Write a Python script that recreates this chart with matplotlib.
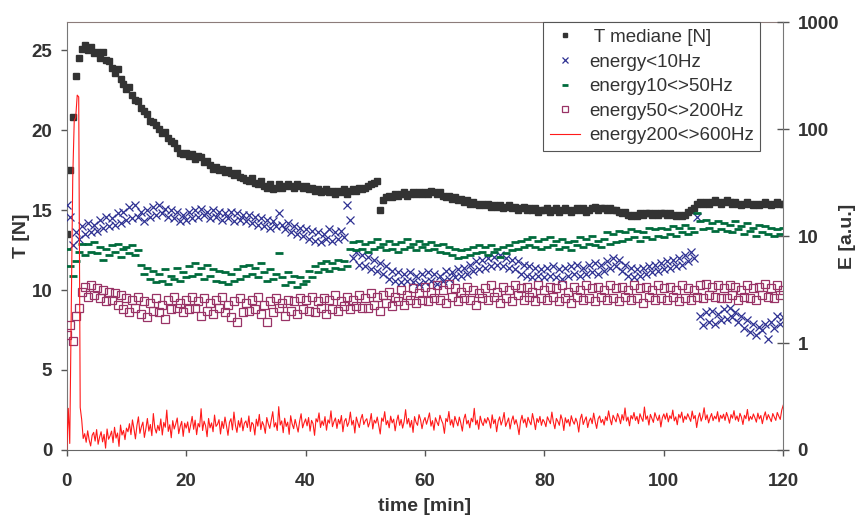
import numpy as np
import matplotlib.pyplot as plt
from matplotlib.ticker import NullLocator

plt.rcParams['font.family'] = ['Liberation Sans', 'DejaVu Sans']

# scatter series: one sample every 0.5 min, from 0 to 120 min
# T mediane [N] (left axis)
T_mediane = [
    13.5, 17.5, 20.8, 23.4, 24.5, 25.1, 25.3, 25.0, 25.2, 24.8,
    24.9, 24.5, 24.9, 24.4, 24.3, 23.9, 23.6, 23.8, 23.2, 22.9,
    22.6, 22.7, 22.2, 21.9, 21.8, 21.4, 21.2, 21.0, 20.6, 20.5,
    20.3, 20.1, 19.8, 19.9, 19.5, 19.3, 19.2, 18.9, 18.6, 18.5,
    18.6, 18.4, 18.5, 18.2, 18.4, 18.3, 18.0, 18.1, 17.8, 17.6,
    17.7, 17.5, 17.6, 17.4, 17.5, 17.3, 17.2, 17.3, 17.1, 17.0,
    16.9, 16.8, 17.0, 16.7, 16.6, 16.8, 16.5, 16.4, 16.6, 16.3,
    16.4, 16.6, 16.4, 16.5, 16.6, 16.5, 16.4, 16.6, 16.5, 16.4,
    16.5, 16.3, 16.4, 16.2, 16.3, 16.1, 16.2, 16.3, 16.1, 16.2,
    16.0, 16.2, 16.1, 16.3, 16.0, 16.2, 16.3, 16.2, 16.4, 16.3,
    16.4, 16.5, 16.6, 16.7, 16.8, 15.0, 15.6, 15.8, 15.9, 15.8,
    16.0, 15.9, 16.0, 16.1, 15.9, 16.0, 16.1, 16.0, 16.1, 16.0,
    16.1, 16.0, 16.2, 16.1, 16.0, 16.1, 15.9, 15.8, 15.9, 15.7,
    15.8, 15.6, 15.7, 15.5, 15.6, 15.4, 15.5, 15.4, 15.3, 15.4,
    15.3, 15.4, 15.2, 15.3, 15.2, 15.3, 15.1, 15.2, 15.3, 15.1,
    15.2, 15.0, 15.1, 15.2, 15.0, 15.1, 15.0, 15.1, 14.9, 15.0,
    15.0, 15.1, 14.9, 15.0, 15.1, 14.9, 15.0, 15.1, 15.0, 14.9,
    15.0, 15.1, 15.0, 15.1, 14.9, 15.0, 15.1, 15.2, 15.0, 15.1,
    15.1, 15.0, 15.1, 15.0, 15.0, 14.9, 14.8, 14.9, 14.7, 14.6,
    14.7, 14.6, 14.8, 14.7, 14.8, 14.8, 14.7, 14.8, 14.7, 14.8,
    14.8, 14.7, 14.8, 14.7, 14.6, 14.7, 14.6, 14.7, 14.9, 15.0,
    15.1, 15.4, 15.5, 15.4, 15.5, 15.4, 15.5, 15.6, 15.5, 15.4,
    15.5, 15.6, 15.5, 15.4, 15.5, 15.4, 15.3, 15.4, 15.5, 15.4,
    15.3, 15.4, 15.3, 15.4, 15.5, 15.4, 15.3, 15.4, 15.5, 15.4,
    15.4,
]

# energies [a.u.] (right axis, log)
energy_lt10 = [
    19.4, 15.2, 8.20, 10.8, 9.41, 12.4, 10.4, 13.3, 10.8, 12.8,
    11.2, 14.2, 12.0, 15.2, 12.4, 14.7, 12.8, 16.3, 13.3, 16.9,
    14.2, 18.7, 14.7, 19.4, 15.2, 16.9, 13.7, 17.5, 15.2, 18.7,
    15.8, 19.4, 16.3, 18.1, 15.2, 17.5, 14.7, 16.9, 13.7, 15.8,
    14.2, 16.9, 14.7, 17.5, 15.2, 18.1, 15.8, 16.9, 14.7, 17.5,
    15.2, 16.9, 14.2, 16.3, 14.7, 16.9, 13.7, 16.3, 14.2, 15.8,
    13.7, 15.8, 13.3, 15.2, 12.8, 14.7, 12.4, 14.2, 12.0, 13.7,
    12.4, 16.3, 12.8, 11.6, 13.3, 10.8, 12.4, 10.4, 12.0, 10.1,
    11.6, 9.41, 11.2, 9.09, 10.8, 8.78, 10.4, 9.41, 11.6, 9.09,
    10.8, 9.41, 11.2, 9.74, 19.4, 14.2, 6.22, 7.14, 5.42, 6.67,
    5.24, 6.44, 4.89, 6.01, 4.73, 5.61, 4.41, 5.24, 3.98, 4.73,
    3.84, 4.57, 3.71, 4.41, 3.84, 4.57, 3.71, 4.26, 3.59, 4.41,
    3.71, 4.57, 3.84, 4.41, 3.59, 4.26, 3.84, 4.73, 3.98, 4.57,
    4.12, 4.89, 4.26, 5.06, 4.41, 5.42, 4.73, 5.81, 4.89, 6.01,
    5.06, 6.22, 5.24, 6.44, 5.42, 6.67, 5.24, 6.22, 5.06, 6.01,
    4.89, 5.81, 4.41, 5.42, 4.26, 5.24, 4.12, 5.06, 4.26, 4.89,
    4.12, 5.06, 4.26, 5.24, 4.12, 4.89, 3.98, 5.06, 4.26, 5.24,
    4.41, 5.42, 4.26, 5.06, 4.41, 5.42, 4.57, 5.61, 4.41, 5.42,
    4.73, 5.81, 5.06, 6.22, 5.24, 6.01, 4.73, 5.42, 4.26, 5.06,
    4.12, 4.89, 4.26, 5.06, 4.41, 5.24, 4.57, 5.42, 4.73, 5.61,
    4.89, 5.81, 5.06, 6.01, 5.24, 6.22, 5.42, 6.67, 5.81, 7.14,
    6.22, 15.2, 1.80, 1.47, 1.93, 1.57, 2.00, 1.52, 1.87, 1.63,
    2.07, 1.68, 2.14, 1.74, 1.93, 1.57, 1.80, 1.37, 1.63, 1.28,
    1.52, 1.19, 1.42, 1.32, 1.52, 1.08, 1.57, 1.37, 1.80, 1.52,
    1.74,
]

energy_10_50 = [
    7.65, 5.24, 4.26, 5.81, 7.14, 8.48, 6.67, 8.48, 7.14, 8.78,
    6.90, 7.92, 6.01, 7.65, 6.67, 8.20, 7.14, 8.48, 6.44, 7.65,
    7.92, 6.90, 8.20, 6.67, 7.39, 5.42, 4.41, 5.06, 3.98, 4.73,
    3.71, 4.41, 3.84, 4.89, 3.59, 4.26, 3.98, 5.06, 3.84, 4.57,
    4.12, 5.24, 4.26, 5.61, 4.41, 5.06, 3.98, 5.42, 4.26, 4.89,
    3.84, 4.73, 3.71, 4.57, 3.59, 4.41, 3.84, 4.89, 3.98, 5.24,
    4.26, 5.42, 4.41, 5.06, 4.12, 5.61, 4.57, 3.84, 4.89, 3.98,
    4.41, 6.90, 4.12, 3.47, 4.57, 3.71, 4.26, 3.35, 4.12, 3.59,
    3.84, 4.73, 4.12, 5.24, 4.57, 5.61, 4.89, 5.81, 4.73, 5.61,
    5.06, 6.01, 4.89, 5.81, 5.24, 7.65, 8.78, 7.39, 9.09, 7.65,
    8.48, 7.14, 8.78, 7.65, 9.41, 7.92, 8.48, 7.39, 9.09, 7.65,
    8.48, 7.14, 8.78, 7.65, 9.41, 7.92, 8.48, 7.39, 9.09, 7.92,
    8.48, 7.39, 8.78, 7.65, 8.20, 7.14, 8.48, 6.90, 7.92, 6.67,
    7.65, 6.22, 7.39, 6.44, 7.65, 6.67, 7.92, 6.90, 8.20, 7.14,
    7.92, 6.67, 8.20, 7.14, 7.65, 6.44, 7.92, 6.90, 8.20, 7.39,
    8.78, 7.65, 9.09, 7.92, 9.41, 8.20, 9.74, 7.92, 9.09, 7.65,
    9.41, 7.92, 9.74, 8.20, 9.09, 7.65, 9.41, 7.92, 8.78, 7.39,
    9.09, 8.20, 9.74, 7.92, 9.41, 8.48, 10.1, 8.20, 9.09, 7.92,
    9.41, 10.8, 8.48, 10.4, 8.78, 11.2, 9.09, 10.8, 9.41, 11.6,
    9.74, 11.2, 9.09, 10.8, 9.74, 12.0, 9.41, 11.6, 10.1, 12.0,
    9.74, 11.6, 10.4, 12.4, 10.1, 12.0, 10.8, 12.8, 10.4, 12.0,
    10.8, 16.3, 13.7, 11.6, 14.2, 12.0, 13.3, 11.2, 13.7, 11.6,
    13.3, 11.2, 12.8, 10.8, 13.7, 11.6, 12.4, 10.4, 13.3, 11.2,
    12.0, 10.1, 12.8, 10.8, 12.4, 10.4, 12.0, 10.1, 11.6, 10.4,
    12.0,
]

energy_50_200 = [
    1.19, 1.47, 1.04, 1.80, 2.14, 3.02, 3.35, 2.72, 3.47, 2.82,
    3.24, 2.63, 3.13, 2.46, 3.02, 2.54, 2.92, 2.29, 2.82, 2.07,
    2.63, 1.93, 2.54, 2.14, 2.72, 1.87, 2.46, 1.74, 2.37, 2.00,
    2.63, 1.93, 2.29, 1.68, 2.54, 2.07, 2.72, 2.14, 2.37, 1.93,
    2.54, 2.07, 2.72, 2.14, 2.46, 1.80, 2.63, 2.00, 2.37, 1.87,
    2.54, 2.14, 2.72, 1.93, 2.29, 1.74, 2.46, 1.57, 2.63, 1.93,
    2.37, 2.00, 2.54, 2.07, 2.72, 1.87, 2.29, 1.57, 2.46, 1.93,
    2.63, 2.14, 2.37, 1.80, 2.54, 2.00, 2.46, 1.87, 2.63, 2.07,
    2.54, 2.00, 2.72, 1.93, 2.46, 2.14, 2.63, 1.87, 2.54, 2.07,
    2.82, 2.00, 2.46, 2.22, 2.72, 2.07, 2.54, 2.22, 2.82, 2.14,
    2.63, 2.14, 2.92, 2.29, 2.72, 2.00, 2.82, 2.37, 3.02, 2.22,
    2.72, 2.46, 3.13, 2.29, 2.82, 2.54, 3.24, 2.37, 2.92, 2.54,
    3.35, 2.46, 3.02, 2.63, 3.47, 2.54, 3.13, 2.37, 3.59, 2.72,
    3.24, 2.46, 3.02, 2.63, 3.35, 2.54, 3.13, 2.29, 2.92, 2.63,
    3.24, 2.54, 3.47, 2.72, 3.02, 2.37, 3.35, 2.63, 3.13, 2.46,
    3.47, 2.82, 3.24, 2.54, 3.35, 2.72, 3.02, 2.46, 3.47, 2.63,
    3.13, 2.54, 3.35, 2.72, 3.24, 2.46, 3.47, 2.63, 3.02, 2.37,
    3.35, 2.72, 3.13, 2.54, 3.47, 2.63, 3.24, 2.46, 3.35, 2.72,
    3.13, 2.54, 3.47, 2.63, 3.24, 2.46, 3.35, 2.72, 3.13, 2.54,
    3.47, 2.63, 3.24, 2.37, 3.35, 2.72, 3.13, 2.54, 3.47, 2.63,
    3.24, 2.54, 3.35, 2.72, 3.13, 2.46, 3.47, 2.63, 3.24, 2.54,
    3.13, 2.72, 3.47, 2.63, 3.59, 2.82, 3.35, 2.72, 3.47, 2.63,
    3.24, 2.63, 3.47, 2.82, 3.35, 2.54, 3.13, 2.72, 3.47, 2.63,
    3.24, 2.54, 3.35, 2.82, 3.59, 2.72, 3.24, 2.63, 3.47, 2.82,
    3.13,
]

# line series: one sample every 0.25 min
energy_200_600 = [
    0.100, 0.245, 0.115, 2.20, 34.8, 120.0, 129.0, 208.0, 200.0, 0.250, 0.192,
    0.128, 0.142, 0.118, 0.151, 0.124, 0.109, 0.137, 0.146, 0.121, 0.155,
    0.113, 0.132, 0.148, 0.119, 0.140, 0.104, 0.157, 0.126, 0.135, 0.150,
    0.117, 0.163, 0.129, 0.144, 0.108, 0.171, 0.138, 0.152, 0.125, 0.160,
    0.148, 0.176, 0.139, 0.191, 0.158, 0.127, 0.169, 0.204, 0.143, 0.165,
    0.182, 0.131, 0.158, 0.197, 0.150, 0.173, 0.136, 0.219, 0.161, 0.144,
    0.170, 0.152, 0.195, 0.138, 0.181, 0.163, 0.236, 0.149, 0.172, 0.130,
    0.188, 0.157, 0.175, 0.199, 0.142, 0.166, 0.185, 0.134, 0.178, 0.160,
    0.183, 0.145, 0.171, 0.206, 0.156, 0.190, 0.139, 0.177, 0.164, 0.243,
    0.152, 0.186, 0.168, 0.133, 0.197, 0.161, 0.179, 0.148, 0.212, 0.166,
    0.174, 0.192, 0.141, 0.185, 0.159, 0.203, 0.168, 0.137, 0.181, 0.196,
    0.154, 0.226, 0.170, 0.146, 0.188, 0.163, 0.199, 0.151, 0.178, 0.187,
    0.162, 0.208, 0.149, 0.181, 0.173, 0.138, 0.194, 0.167, 0.215, 0.155,
    0.184, 0.170, 0.143, 0.201, 0.176, 0.159, 0.190, 0.228, 0.164, 0.180,
    0.152, 0.254, 0.171, 0.187, 0.145, 0.198, 0.166, 0.182, 0.140, 0.209,
    0.175, 0.158, 0.193, 0.169, 0.147, 0.186, 0.218, 0.161, 0.179, 0.195,
    0.168, 0.201, 0.150, 0.189, 0.176, 0.137, 0.196, 0.183, 0.222, 0.162,
    0.187, 0.170, 0.205, 0.153, 0.191, 0.178, 0.232, 0.165, 0.184, 0.199,
    0.159, 0.193, 0.175, 0.210, 0.148, 0.186, 0.197, 0.166, 0.181, 0.226,
    0.171, 0.189, 0.144, 0.203, 0.180, 0.162, 0.195, 0.215, 0.173, 0.188,
    0.196, 0.164, 0.182, 0.219, 0.157, 0.190, 0.178, 0.203, 0.168, 0.141,
    0.199, 0.185, 0.228, 0.172, 0.188, 0.161, 0.207, 0.179, 0.194, 0.151,
    0.186, 0.212, 0.170, 0.193, 0.160, 0.184, 0.238, 0.175, 0.197, 0.163,
    0.189, 0.146, 0.205, 0.181, 0.170, 0.214, 0.192, 0.158, 0.186, 0.201,
    0.174, 0.195, 0.222, 0.167, 0.188, 0.153, 0.200, 0.182, 0.169, 0.211,
    0.190, 0.176, 0.143, 0.197, 0.184, 0.229, 0.171, 0.192, 0.163, 0.206,
    0.185, 0.168, 0.203, 0.178, 0.150, 0.194, 0.216, 0.175, 0.189, 0.161,
    0.198, 0.183, 0.245, 0.172, 0.190, 0.156, 0.207, 0.181, 0.169, 0.196,
    0.178, 0.201, 0.187, 0.160, 0.213, 0.176, 0.193, 0.148, 0.185, 0.204,
    0.171, 0.190, 0.224, 0.166, 0.182, 0.199, 0.157, 0.188, 0.208, 0.174,
    0.192, 0.168, 0.139, 0.186, 0.211, 0.179, 0.195, 0.163, 0.202, 0.184,
    0.172, 0.219, 0.188, 0.155, 0.197, 0.181, 0.206, 0.170, 0.193, 0.183,
    0.165, 0.204, 0.189, 0.176, 0.226, 0.182, 0.158, 0.197, 0.185, 0.170,
    0.213, 0.191, 0.152, 0.200, 0.179, 0.193, 0.167, 0.209, 0.186, 0.174,
    0.198, 0.181, 0.147, 0.195, 0.216, 0.173, 0.190, 0.204, 0.162, 0.187,
    0.199, 0.176, 0.221, 0.184, 0.159, 0.196, 0.208, 0.180, 0.193, 0.171,
    0.205, 0.188, 0.232, 0.194, 0.172, 0.211, 0.197, 0.183, 0.219, 0.201,
    0.176, 0.214, 0.190, 0.247, 0.186, 0.203, 0.168, 0.210, 0.195, 0.224,
    0.189, 0.206, 0.176, 0.218, 0.199, 0.185, 0.252, 0.193, 0.208, 0.171,
    0.215, 0.197, 0.181, 0.223, 0.202, 0.188, 0.212, 0.164, 0.200, 0.217,
    0.194, 0.221, 0.183, 0.209, 0.196, 0.236, 0.187, 0.204, 0.172, 0.215,
    0.199, 0.226, 0.181, 0.207, 0.193, 0.218, 0.201, 0.185, 0.231, 0.196,
    0.210, 0.162, 0.198, 0.222, 0.186, 0.205, 0.248, 0.192, 0.213, 0.179,
    0.201, 0.219, 0.188, 0.207, 0.195, 0.228, 0.183, 0.211, 0.197, 0.216,
    0.189, 0.224, 0.203, 0.178, 0.214, 0.198, 0.233, 0.191, 0.208, 0.185,
    0.220, 0.202, 0.173, 0.211, 0.196, 0.239, 0.187, 0.206, 0.193, 0.217,
    0.200, 0.182, 0.221, 0.195, 0.210, 0.176, 0.205, 0.227, 0.191, 0.214,
    0.198, 0.184, 0.219, 0.203, 0.189, 0.224, 0.207, 0.193, 0.236, 0.262,
]


def temps(serie):
    return np.linspace(0, 120, len(serie))


fig = plt.figure(figsize=(8.56, 5.16), dpi=100)
ax = fig.add_axes([0.078, 0.128, 0.837, 0.829])
ax2 = ax.twinx()

l1, = ax.plot(temps(T_mediane), T_mediane, ls='none', marker='s', ms=4.3,
              color='#333333', label=' T mediane [N]')

l2, = ax2.plot(temps(energy_lt10), energy_lt10, ls='none', marker='x', ms=6,
               mew=0.9, color='#2E3192', label='energy<10Hz')
l3, = ax2.plot(temps(energy_10_50), energy_10_50, ls='none', marker='_', ms=5.5,
               mew=2, color='#006B3C', label='energy10<>50Hz')
l4, = ax2.plot(temps(energy_50_200), energy_50_200, ls='none', marker='s', ms=5.5,
               mfc='none', mew=0.9, color='#993366', label='energy50<>200Hz')
l5, = ax2.plot(temps(energy_200_600), energy_200_600, lw=0.8, color='#FF1A1A',
               label='energy200<>600Hz')

ax.set_xlim(0, 120)
ax.set_ylim(0, 26.75)
ax.set_xticks(np.arange(0, 121, 20))
ax.set_yticks(np.arange(0, 26, 5))

ax2.set_yscale('log')
ax2.set_ylim(0.1, 1000)
ax2.set_yticks([0.1, 1, 10, 100, 1000])
ax2.set_yticklabels(['0', '1', '10', '100', '1000'])
ax2.yaxis.set_minor_locator(NullLocator())

gris = '#777777'
for nom in ['left', 'bottom', 'right', 'top']:
    ax.spines[nom].set_color(gris)
    ax2.spines[nom].set_color(gris)
ax.spines['top'].set_color('#8c7c7a')
ax.spines['right'].set_visible(False)
ax2.spines['left'].set_visible(False)
ax2.spines['bottom'].set_visible(False)
ax2.spines['top'].set_visible(False)
ax.spines['bottom'].set_color('#666666')

ax.tick_params(axis='y', direction='out', length=4.5, width=1, color='#555555',
               labelsize=13.5, labelcolor='#333333', pad=6)
ax.tick_params(axis='x', direction='out', length=4.5, width=1, color='#555555',
               labelsize=13.5, labelcolor='#333333', pad=12)
ax2.tick_params(axis='y', direction='inout', length=8.5, width=1, color='#555555',
                labelsize=13.5, labelcolor='#333333', pad=6)
for lab in ax.get_xticklabels() + ax.get_yticklabels() + ax2.get_yticklabels():
    lab.set_fontweight('bold')

ax.set_xlabel('time [min]', fontsize=14, fontweight='bold', color='#333333')
ax.set_ylabel('T [N]', fontsize=14, fontweight='bold', color='#333333')
ax2.set_ylabel('E [a.u.]', fontsize=14, fontweight='bold', color='#333333')
ax.xaxis.set_label_coords(0.5, -0.112)
ax.yaxis.set_label_coords(-0.051, 0.5)
ax2.yaxis.set_label_coords(1.078, 0.5)

leg = ax2.legend(handles=[l1, l2, l3, l4, l5], loc='upper left',
                 bbox_to_anchor=(0.665, 1.0), borderaxespad=0, fontsize=13.5,
                 fancybox=False, framealpha=1, edgecolor='#555555',
                 handlelength=1.6, handletextpad=0.5, labelspacing=0.4,
                 borderpad=0.35, markerscale=0.75)
leg.get_frame().set_linewidth(0.8)
for txt in leg.get_texts():
    txt.set_color('#333333')

fig.savefig('out.png', dpi=100)
